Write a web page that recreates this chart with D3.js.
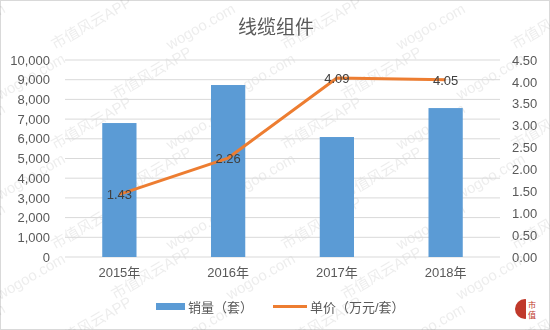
<!DOCTYPE html>
<html><head><meta charset="utf-8">
<script src="https://cdn.jsdelivr.net/npm/d3@7"></script>
<style>body{margin:0;background:#fff}svg{display:block}</style>
</head><body>
<script>
const categories = ["2015年","2016年","2017年","2018年"];
const sales = [6800, 8730, 6090, 7560];
const prices = [1.43, 2.26, 4.09, 4.05];
const leftTicks = [0,1000,2000,3000,4000,5000,6000,7000,8000,9000,10000];
const rightTicks = [0,0.5,1,1.5,2,2.5,3,3.5,4,4.5];
const title = "线缆组件";
const seriesNames = ["销量（套）","单价（万元/套）"];

const W=550,H=330;
const m={l:65,r:500,t:60,b:257};
const svg=d3.select("body").append("svg").attr("width",W).attr("height",H);
const font="'Liberation Sans','Noto Sans CJK SC',sans-serif";
svg.append("rect").attr("x",0.5).attr("y",0.5).attr("width",W-1).attr("height",H-1).attr("fill","#fff").attr("stroke","#d9d9d9");

// watermarks
const wm=svg.append("g").attr("opacity",0.13).attr("fill","#777").style("font-family",font);
for(let r=-2;r<9;r++){for(let c=-1;c<7;c++){
  const x=c*115+(r%2)*55, y=r*50;
  wm.append("text").attr("transform",`translate(${x},${y}) rotate(-30)`).attr("font-size",15)
    .text((r+c)%2===0?"wogoo.com":"市值风云APP");
}}

const x=d3.scaleBand().domain(categories).range([m.l,m.r]).paddingInner(0.685).paddingOuter(0.3425);
const yL=d3.scaleLinear().domain([0,10000]).range([m.b,m.t]);
const yR=d3.scaleLinear().domain([0,4.5]).range([m.b,m.t]);

// grid
svg.append("g").selectAll("line").data(leftTicks).join("line")
  .attr("x1",m.l).attr("x2",m.r).attr("y1",d=>yL(d)).attr("y2",d=>yL(d))
  .attr("stroke","#d9d9d9").attr("stroke-width",1);

const axL=svg.append("g").attr("transform",`translate(${m.l},0)`)
  .call(d3.axisLeft(yL).tickValues(leftTicks).tickFormat(d3.format(",")).tickSize(0).tickPadding(15));
const axR=svg.append("g").attr("transform",`translate(${m.r},0)`)
  .call(d3.axisRight(yR).tickValues(rightTicks).tickFormat(d3.format(".2f")).tickSize(0).tickPadding(12));
const axB=svg.append("g").attr("transform",`translate(0,${m.b})`)
  .call(d3.axisBottom(x).tickSize(0).tickPadding(11));
[axL,axR,axB].forEach(a=>{a.select(".domain").remove();a.selectAll("text").attr("fill","#595959").style("font-size","13px").style("font-family",font);});

// bars
svg.append("g").selectAll("rect").data(sales).join("rect")
  .attr("x",(d,i)=>x(categories[i])).attr("width",x.bandwidth())
  .attr("y",d=>yL(d)).attr("height",d=>m.b-yL(d)).attr("fill","#5B9BD5");

// line
const cx=i=>x(categories[i])+x.bandwidth()/2;
svg.append("path").datum(prices)
  .attr("d",d3.line().x((d,i)=>cx(i)).y(d=>yR(d)))
  .attr("fill","none").attr("stroke","#ED7D31").attr("stroke-width",3).attr("stroke-linejoin","round");

svg.append("g").selectAll("text").data(prices).join("text")
  .attr("x",(d,i)=>cx(i)).attr("y",d=>yR(d)+5).attr("text-anchor","middle")
  .attr("font-size",13).attr("fill","#404040").style("font-family",font)
  .text(d=>d.toFixed(2));

// title
svg.append("text").attr("x",276).attr("y",34).attr("text-anchor","middle")
  .attr("font-size",19).attr("fill","#595959").style("font-family",font).text(title);

// legend
const lg=svg.append("g").style("font-family",font);
lg.append("rect").attr("x",156).attr("y",303).attr("width",29).attr("height",7).attr("fill","#5B9BD5");
lg.append("text").attr("x",188).attr("y",312).attr("font-size",13).attr("fill","#595959").text(seriesNames[0]);
lg.append("line").attr("x1",273).attr("x2",307).attr("y1",306.5).attr("y2",306.5).attr("stroke","#ED7D31").attr("stroke-width",3);
lg.append("text").attr("x",310).attr("y",312).attr("font-size",13).attr("fill","#595959").text(seriesNames[1]);

// logo
const logo=svg.append("g").attr("transform","translate(525,309)");
logo.append("circle").attr("r",10).attr("fill","#c0392b");
logo.append("rect").attr("x",1).attr("y",-11).attr("width",11).attr("height",22).attr("fill","#fff");
logo.append("text").attr("x",7).attr("y",-1).attr("text-anchor","middle").attr("font-size",8).attr("fill","#c0392b").style("font-family","'Noto Sans CJK SC'").text("市");
logo.append("text").attr("x",7).attr("y",9).attr("text-anchor","middle").attr("font-size",8).attr("fill","#c0392b").style("font-family","'Noto Sans CJK SC'").text("值");
</script>
</body></html>
